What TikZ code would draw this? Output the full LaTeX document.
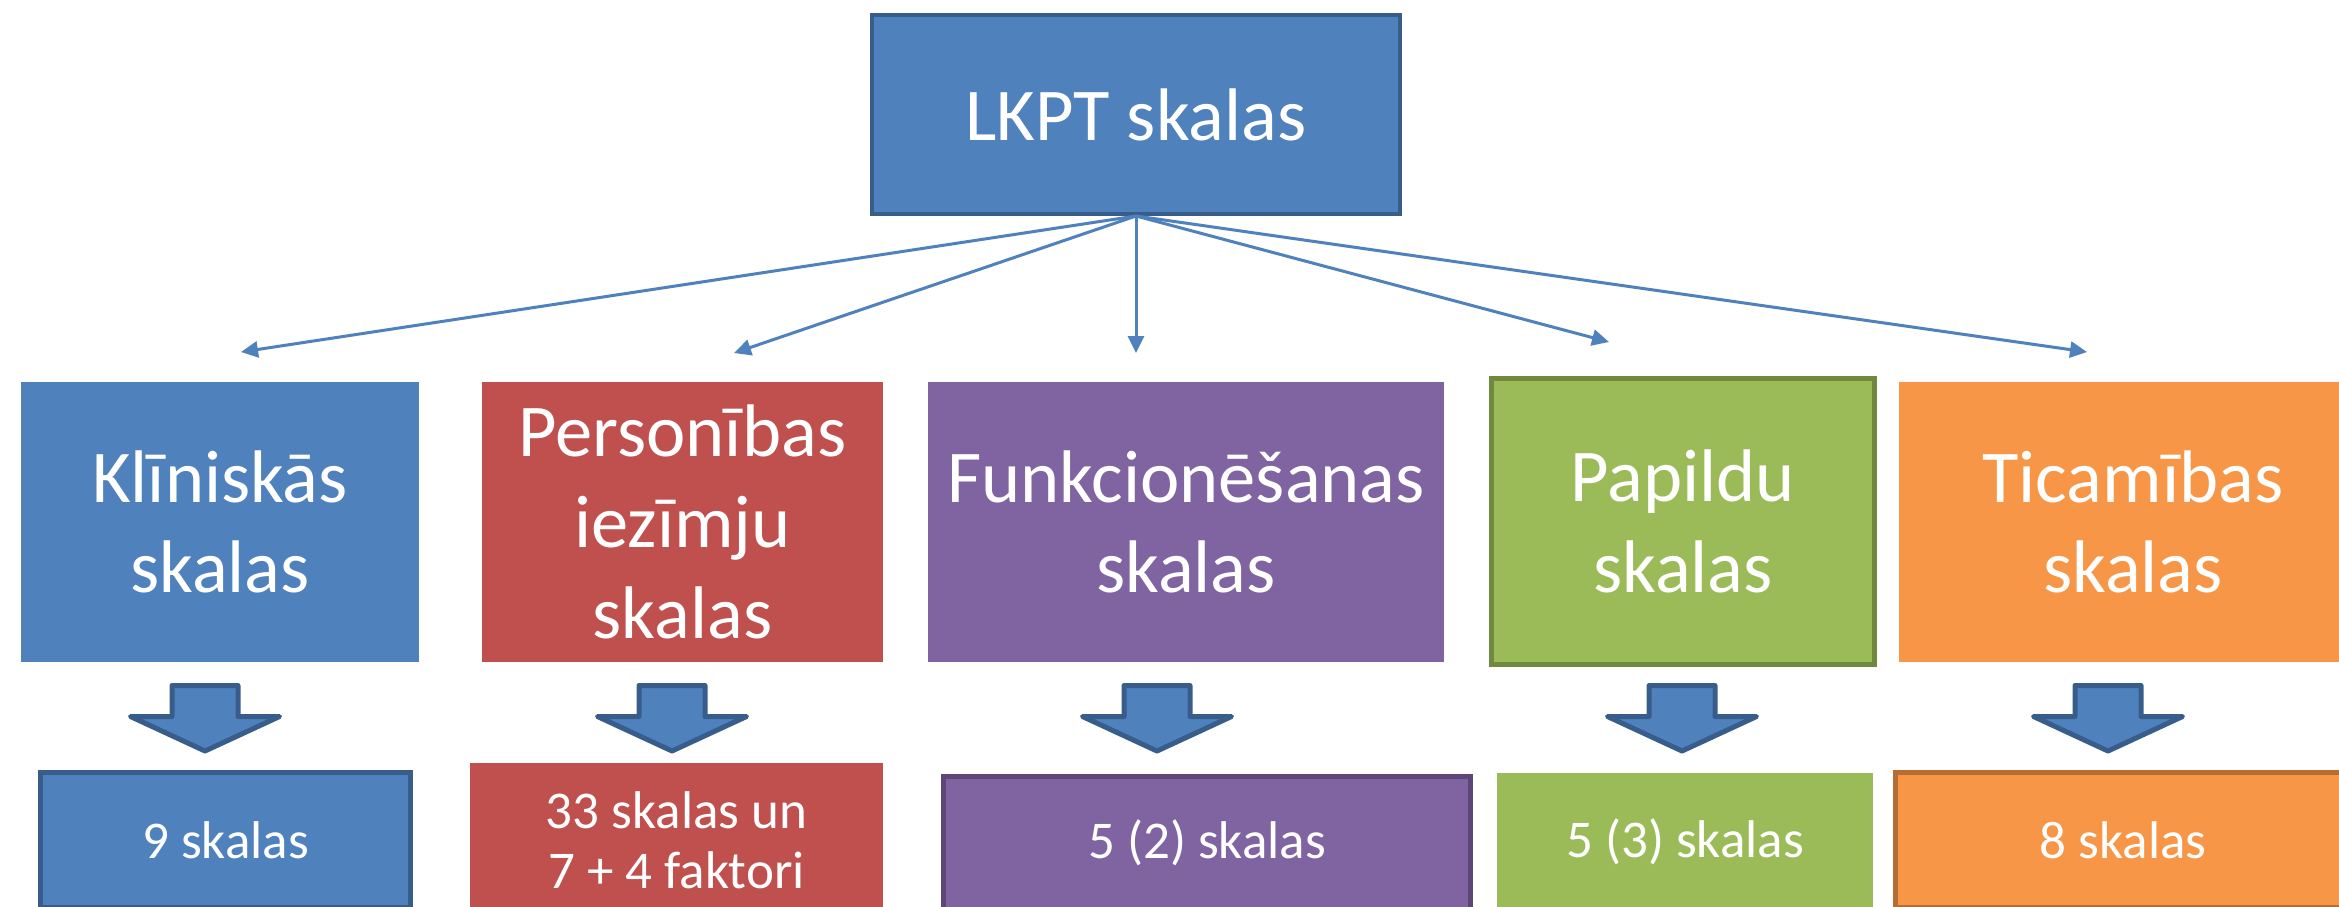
\documentclass[tikz,border=0pt]{standalone}
\usepackage{fontspec}
\setmainfont{Carlito}
\usepackage{xcolor}
\usetikzlibrary{arrows.meta,positioning,calc,shadows}

\definecolor{skyblue}{HTML}{4F81BD}
\definecolor{skyblueD}{HTML}{385D8A}
\definecolor{brick}{HTML}{C0504D}
\definecolor{plum}{HTML}{8064A2}
\definecolor{plumD}{HTML}{5C4776}
\definecolor{olive}{HTML}{9BBB59}
\definecolor{oliveD}{HTML}{71893F}
\definecolor{amber}{HTML}{F79646}
\definecolor{amberD}{HTML}{B66D31}

\tikzset{downarrow/.pic={
    \draw[line width=0.05cm,draw=skyblueD,fill=skyblue,line join=round]
        (-0.33,0) -- (0.33,0) -- (0.33,-0.31) -- (0.745,-0.31) -- (0,-0.655)
        -- (-0.745,-0.31) -- (-0.33,-0.31) -- cycle;
}}

\begin{document}
\begin{tikzpicture}
    % Define styles
    \tikzstyle{box}=[rectangle,inner sep=0pt,align=center,text=white]
    \tikzstyle{framed}=[box,draw=white,line width=0.07cm,drop shadow={shadow xshift=0.02cm,shadow yshift=-0.035cm,opacity=0.3}]
    \tikzstyle{bordered}=[box,line width=0.05cm]
    \tikzstyle{big}=[font=\fontsize{21.2}{25.8}\selectfont]
    \tikzstyle{small}=[font=\fontsize{15.1}{17.2}\selectfont]
    \tikzstyle{link}=[skyblue,line width=0.03cm,-{Triangle[length=0.17cm,width=0.16cm]}]

    \useasboundingbox (0,0) rectangle (23.39,-9.06);
    \clip (0,0) rectangle (23.39,-9.06);

    % Root
    \node[box,big,fill=skyblue,draw=skyblueD,line width=0.04cm,minimum width=5.28cm,minimum height=1.99cm] (lkpt) at (11.36,-1.145) {LKPT skalas};

    % Scale groups
    \node[framed,big,fill=skyblue,minimum width=4.05cm,minimum height=2.87cm] (klin) at (2.20,-5.22) {Klīniskās\\skalas};
    \node[framed,big,fill=brick,minimum width=4.08cm,minimum height=2.87cm] (pers) at (6.825,-5.22) {Personības\\iezīmju\\skalas};
    \node[framed,big,fill=plum,minimum width=5.23cm,minimum height=2.87cm] (funk) at (11.86,-5.22) {Funkcionēšanas\\skalas};
    \node[bordered,big,fill=olive,draw=oliveD,minimum width=3.83cm,minimum height=2.86cm] (pap) at (16.83,-5.215) {Papildu\\skalas};
    \node[framed,big,fill=amber,minimum width=4.75cm,minimum height=2.87cm] (tic) at (21.33,-5.22) {Ticamības\\skalas};

    % Counts
    \node[bordered,small,fill=skyblue,draw=skyblueD,minimum width=3.70cm,minimum height=1.35cm] (klinN) at (2.255,-8.40) {9 skalas};
    \node[framed,small,fill=brick,minimum width=4.20cm,minimum height=1.61cm] (persN) at (6.765,-8.40) {33 skalas un\\7 + 4 faktori};
    \node[bordered,small,fill=plum,draw=plumD,minimum width=5.27cm,minimum height=1.33cm] (funkN) at (12.07,-8.43) {5 (2) skalas};
    \node[framed,small,fill=olive,minimum width=3.83cm,minimum height=1.45cm] (papN) at (16.85,-8.42) {5 (3) skalas};
    \node[bordered,small,fill=amber,draw=amberD,minimum width=4.55cm,minimum height=1.35cm] (ticN) at (21.23,-8.40) {8 skalas};

    % Thin arrows from the root
    \coordinate (t1) at (2.41,-3.52);
    \coordinate (t2) at (7.34,-3.53);
    \coordinate (t3) at (11.36,-3.53);
    \coordinate (t4) at (16.09,-3.42);
    \coordinate (t5) at (20.87,-3.52);
    \foreach \i in {1,...,5} {
        \draw[link] (lkpt.south) -- (t\i);
    }

    % Block arrows
    \foreach \x in {2.05,6.72,11.57,16.82,21.08} {
        \pic at (\x,-6.855) {downarrow};
    }
\end{tikzpicture}
\end{document}
